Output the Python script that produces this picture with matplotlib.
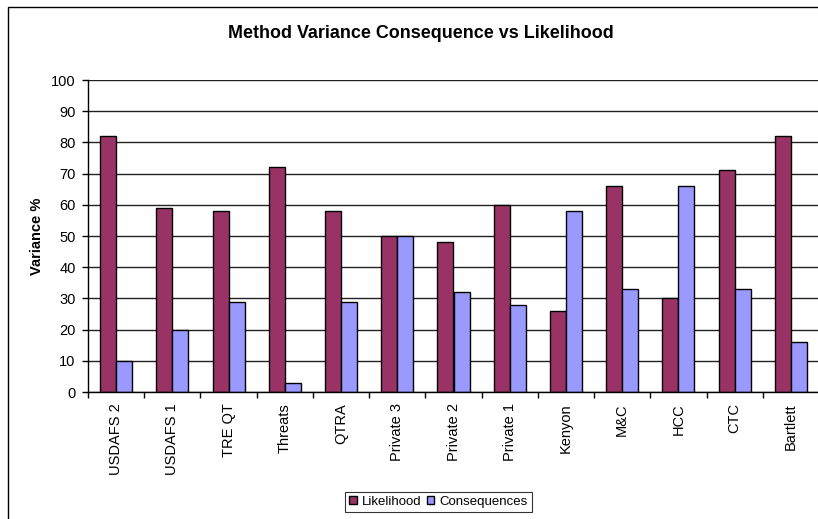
"""
Method variance: consequence vs likelihood, grouped bars
"""
import matplotlib
matplotlib.use('Agg')
import matplotlib.pyplot as plt
import numpy as np
from matplotlib.patches import Rectangle

methods = ['USDAFS 2', 'USDAFS 1', 'TRE QT', 'Threats', 'QTRA', 'Private 3',
           'Private 2', 'Private 1', 'Kenyon', 'M&C', 'HCC', 'CTC', 'Bartlett']
likelihood = [82, 59, 58, 72, 58, 50, 48, 60, 26, 66, 30, 71, 82]
consequences = [10, 20, 29, 3, 29, 50, 32, 28, 58, 33, 66, 33, 16]
yticks = [0, 10, 20, 30, 40, 50, 60, 70, 80, 90, 100]

plt.rcParams['font.family'] = ['Liberation Sans', 'DejaVu Sans']

W, H = 818, 519
fig = plt.figure(figsize=(W / 100, H / 100), dpi=100)
fig.patch.set_facecolor('white')

# outer chart border (runs off the right and bottom edge)
fig.patches.append(Rectangle((8 / W, -0.1), 1.2, 1 - 7 / H + 0.1,
                             transform=fig.transFigure, fill=False,
                             edgecolor='black', linewidth=1.0))

ax = fig.add_axes([88 / W, 1 - 392 / H, 731 / W, 312 / H])

x = np.arange(len(methods))
bw = 1 / 3.5
ax.bar(x - bw / 2, likelihood, bw, color='#993366', edgecolor='black',
       linewidth=1.0, label='Likelihood', zorder=3)
ax.bar(x + bw / 2, consequences, bw, color='#9999FF', edgecolor='black',
       linewidth=1.0, label='Consequences', zorder=3)

ax.set_xlim(-0.5, len(methods) - 0.5)
ax.set_ylim(0, 100)
ax.set_yticks(yticks)
ax.yaxis.grid(True, color='#222222', linewidth=1.0, zorder=0)

ax.set_xticks(x)
ax.set_xticklabels(methods, rotation=90, fontsize=10.5, va='top')
ax.set_xticks(np.arange(len(methods) + 1) - 0.5, minor=True)
ax.tick_params(axis='x', which='major', length=0, pad=8)
ax.tick_params(axis='x', which='minor', length=4, width=1, direction='out')
ax.tick_params(axis='y', length=4, width=1, direction='out', pad=5,
               labelsize=10.5)

for s in ['top', 'right']:
    ax.spines[s].set_visible(False)
for s in ['left', 'bottom']:
    ax.spines[s].set_color('black')
    ax.spines[s].set_linewidth(1.0)
    ax.spines[s].set_zorder(4)

ax.set_ylabel('Variance %', fontsize=10.5, fontweight='bold')
ax.yaxis.set_label_coords(-0.060, 0.5)

fig.text(421 / W, 1 - 33 / H, 'Method Variance Consequence vs Likelihood',
         ha='center', va='center', fontsize=12.9, fontweight='bold')

leg = fig.legend(loc='center', bbox_to_anchor=(438.5 / W, 1 - 502 / H), ncol=2,
                 fontsize=9.5, fancybox=False, frameon=True, borderpad=0.3,
                 handlelength=0.55, handleheight=0.55, handletextpad=0.38,
                 columnspacing=0.45, borderaxespad=0)
leg.get_frame().set_edgecolor('black')
leg.get_frame().set_linewidth(0.8)

fig.savefig('out.png', dpi=100)
